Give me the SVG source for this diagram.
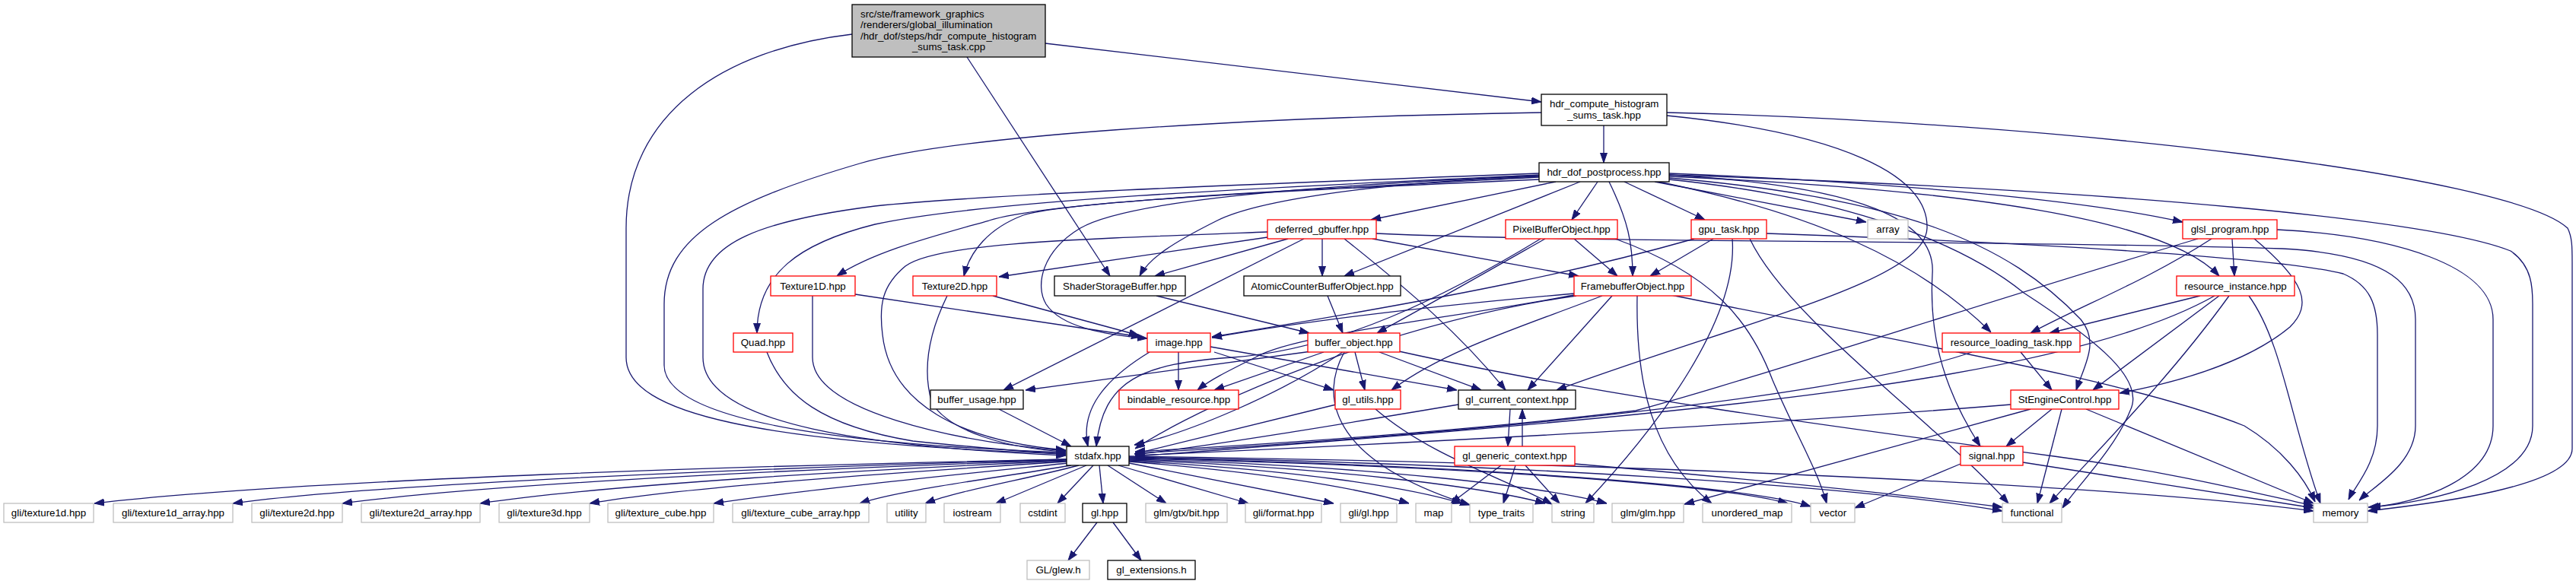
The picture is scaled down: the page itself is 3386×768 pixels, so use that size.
<svg xmlns="http://www.w3.org/2000/svg" width="3386" height="768" viewBox="0 0 3386 768">
<style>
text{font-family:"Liberation Sans",Arial,Helvetica,sans-serif;font-size:13.3px;fill:#000;text-anchor:middle}
text.l{text-anchor:start}
rect{fill:#fff;stroke-width:1.3}
.k{stroke:#000}
.r{stroke:#ff0000}
.g{stroke:#bfbfbf}
.m{fill:#bfbfbf;stroke:#000}
#edges path{fill:none;stroke:#191970;stroke-width:1.3;marker-end:url(#a)}
</style>
<defs>
<marker id="a" markerUnits="userSpaceOnUse" markerWidth="13" markerHeight="10" viewBox="0 0 13 10" refX="13" refY="5" orient="auto"><path d="M0,0.5 L13,5 L0,9.5 z" fill="#191970" stroke="#191970" stroke-width="1"/></marker>
</defs>
<rect x="0" y="0" width="3386" height="768" style="fill:#fff;stroke:none"/>
<g id="edges">
<path d="M1374,57 L2026,134"/>
<path d="M1271,75 L1459,363"/>
<path d="M1120,45 C950,65 823,150 823,300 L823,470 C823,545 1000,582 1401,597"/>
<path d="M2108,165 L2108,214"/>
<path d="M2026,148 C1600,155 1250,180 1130,215 C960,265 873,310 873,400 L873,480 C873,560 1150,586 1401,595"/>
<path d="M2191,152 C2420,175 2535,230 2533,300 C2530,370 2300,420 2046,513"/>
<path d="M2191,148 C2700,160 3300,230 3375,300 C3381,312 3381,325 3381,345 L3381,590 C3381,640 3200,662 3112,672"/>
<path d="M2045,239 L1802,289"/>
<path d="M2100,239 L2066,289"/>
<path d="M2115,239 C2140,290 2146,320 2146,363"/>
<path d="M2135,239 L2241,289"/>
<path d="M2175,239 L2453,292"/>
<path d="M2194,228 C2500,240 2750,265 2869,292"/>
<path d="M2194,232 C2600,250 2850,290 2917,363"/>
<path d="M2180,239 C2380,280 2520,340 2617,437"/>
<path d="M2194,234 C2500,260 2640,320 2735,420 C2760,450 2740,480 2729,513"/>
<path d="M2194,230 C2450,245 2545,290 2540,360 C2535,450 2560,520 2603,587"/>
<path d="M2194,230 C2800,250 3200,290 3300,330 C3329,350 3329,380 3329,400 L3329,560 C3329,630 3200,660 3116,667"/>
<path d="M2023,233 C1700,250 1380,265 1300,290 C1230,310 1150,330 1100,363"/>
<path d="M2023,236 C1700,250 1400,265 1345,283 C1300,300 1275,330 1267,363"/>
<path d="M2023,230 C1700,245 1300,262 1150,295 C1050,320 995,360 995,438"/>
<path d="M2023,228 C1700,240 1300,255 1150,271 C1000,290 924,320 924,380 L924,470 C924,560 1150,588 1401,599"/>
<path d="M2023,232 C1800,240 1650,265 1600,290 C1540,320 1510,340 1498,363"/>
<path d="M2077,239 L1767,363"/>
<path d="M2023,231 C1700,245 1480,265 1420,300 C1370,330 1360,375 1375,400 C1395,430 1450,440 1508,445"/>
<path d="M2194,236 C2430,260 2580,320 2660,385 C2760,450 2820,500 2800,540 C2780,590 2730,640 2711,668"/>
<path d="M1666,312 L1313,364"/>
<path d="M1693,314 L1518,363"/>
<path d="M1738,314 L1738,363"/>
<path d="M1804,314 L2075,363"/>
<path d="M1714,314 L1319,513"/>
<path d="M1666,305 C1400,315 1230,320 1190,350 C1160,375 1155,400 1160,440 C1170,530 1260,580 1401,592"/>
<path d="M1767,314 C1850,380 1920,440 1979,513"/>
<path d="M1809,307 C2100,320 2600,315 3000,327 C3150,335 3175,380 3175,420 L3175,560 C3175,610 3120,640 3101,658"/>
<path d="M2069,314 L2126,363"/>
<path d="M2031,314 C1950,360 1880,400 1810,438"/>
<path d="M2025,314 C1900,390 1760,460 1620,470 C1500,478 1450,500 1441,587"/>
<path d="M2123,314 C2250,360 2300,420 2330,500 C2360,570 2390,620 2401,662"/>
<path d="M2252,314 L2169,363"/>
<path d="M2227,314 C2100,350 1950,385 1593,443"/>
<path d="M2277,314 C2285,420 2180,560 2084,662"/>
<path d="M2300,314 C2350,420 2550,560 2640,662"/>
<path d="M2322,307 C2700,320 3000,340 3080,360 C3115,375 3125,400 3125,440 L3125,560 C3125,610 3095,640 3087,657"/>
<path d="M2934,314 L2937,363"/>
<path d="M2889,314 C2600,400 2300,500 2150,540 C1900,570 1650,585 1492,594"/>
<path d="M2907,314 C2820,370 2740,400 2669,438"/>
<path d="M2962,313 C3030,370 3040,400 3010,430 C2950,480 2850,505 2786,517"/>
<path d="M2993,302 C3150,310 3277,350 3277,420 L3277,560 C3277,630 3180,662 3113,667"/>
<path d="M1068,389 L1068,470 C1068,540 1250,580 1401,593"/>
<path d="M1124,387 L1500,443"/>
<path d="M1245,389 C1225,430 1210,480 1225,530 C1250,570 1330,590 1401,594"/>
<path d="M1305,389 L1497,441"/>
<path d="M1008,463 C1030,520 1080,560 1200,580 C1300,590 1360,595 1401,597"/>
<path d="M1520,389 L1721,438"/>
<path d="M1745,389 L1765,438"/>
<path d="M2069,386 C1850,405 1700,425 1593,444"/>
<path d="M2069,388 C1900,420 1700,440 1650,470 C1610,490 1590,500 1574,513"/>
<path d="M2072,389 C1850,420 1600,520 1492,590"/>
<path d="M2119,389 L2008,513"/>
<path d="M2106,389 C2000,430 1900,460 1829,513"/>
<path d="M2152,389 C2150,500 2170,600 2250,662"/>
<path d="M2197,388 C2500,450 2800,500 2950,560 C3000,590 3030,630 3043,660"/>
<path d="M1549,463 L1549,513"/>
<path d="M1596,463 L1753,513"/>
<path d="M1591,456 L1915,513"/>
<path d="M1511,463 C1450,500 1420,540 1430,587"/>
<path d="M1724,462 L1348,513"/>
<path d="M1740,463 L1596,513"/>
<path d="M1781,463 L1794,513"/>
<path d="M1813,463 L1947,513"/>
<path d="M1765,463 C1680,520 1560,570 1491,585"/>
<path d="M1767,463 C1730,530 1760,610 1932,664"/>
<path d="M1839,462 C2100,520 2400,560 2700,600 C2850,620 2950,645 3041,665"/>
<path d="M1313,538 L1408,587"/>
<path d="M1756,532 L1491,597"/>
<path d="M1808,538 C1880,600 1980,630 2040,663"/>
<path d="M1917,532 C1750,560 1600,585 1492,598"/>
<path d="M1985,538 L1982,587"/>
<path d="M2001,587 L2001,538"/>
<path d="M1973,612 L1907,662"/>
<path d="M1992,612 L1976,662"/>
<path d="M2005,612 L2050,662"/>
<path d="M2070,610 C2300,630 2500,650 2632,667"/>
<path d="M2656,463 L2697,513"/>
<path d="M2592,463 C2400,530 1800,580 1492,596"/>
<path d="M2892,389 L2694,438"/>
<path d="M2917,389 L2751,513"/>
<path d="M2930,389 C2850,500 2750,600 2694,662"/>
<path d="M2956,389 C3000,450 3010,550 3050,662"/>
<path d="M2911,389 C2750,480 2400,520 2150,545 C1900,570 1650,588 1492,600"/>
<path d="M2643,532 C2300,560 1800,585 1492,599"/>
<path d="M2697,538 L2637,587"/>
<path d="M2710,538 L2678,662"/>
<path d="M2742,538 L3041,662"/>
<path d="M2669,538 L2214,663"/>
<path d="M2577,610 L2438,668"/>
<path d="M2659,608 L3041,668"/>
<path d="M1402,604 C1000,612 400,630 124,662"/>
<path d="M1402,604 C1050,614 500,635 306,662"/>
<path d="M1402,605 C1100,615 650,635 450,662"/>
<path d="M1402,606 C1150,617 800,637 631,662"/>
<path d="M1402,607 C1200,620 900,640 775,662"/>
<path d="M1404,609 C1250,625 1050,645 938,662"/>
<path d="M1408,612 C1300,630 1180,645 1130,662"/>
<path d="M1418,612 C1350,630 1260,645 1216,662"/>
<path d="M1428,612 L1309,662"/>
<path d="M1437,612 L1390,662"/>
<path d="M1445,612 L1450,662"/>
<path d="M1456,612 L1533,662"/>
<path d="M1470,612 L1641,662"/>
<path d="M1484,609 L1753,662"/>
<path d="M1484,607 C1650,620 1780,640 1852,662"/>
<path d="M1484,606 C1700,618 1850,640 1921,662"/>
<path d="M1484,605 C1750,615 1950,640 2031,662"/>
<path d="M1484,604 C1800,612 2030,640 2112,662"/>
<path d="M1484,603 C1900,612 2250,635 2350,662"/>
<path d="M1484,602 C1950,612 2300,640 2380,666"/>
<path d="M1484,601 C2000,610 2450,640 2632,672"/>
<path d="M1484,600 C2200,610 2800,640 3041,672"/>
<path d="M1442,687 L1404,737"/>
<path d="M1463,687 L1500,737"/>
</g>
<g id="node-main"><rect class="m" x="1120" y="6" width="254" height="69"/><text class="l" x="1131" y="22.5">src/ste/framework_graphics</text><text class="l" x="1131" y="37">/renderers/global_illumination</text><text class="l" x="1131" y="51.5">/hdr_dof/steps/hdr_compute_histogram</text><text x="1247" y="66">_sums_task.cpp</text></g>
<g id="node-hct"><rect class="k" x="2026" y="124" width="165" height="41"/><text class="l" x="2037" y="141">hdr_compute_histogram</text><text x="2108.5" y="155.5">_sums_task.hpp</text></g>
<g id="node-hdp"><rect class="k" x="2023" y="214" width="171" height="25"/><text x="2108.5" y="231">hdr_dof_postprocess.hpp</text></g>
<g id="node-dgb"><rect class="r" x="1666" y="289" width="143" height="25"/><text x="1737.5" y="306">deferred_gbuffer.hpp</text></g>
<g id="node-pbo"><rect class="r" x="1979" y="289" width="147" height="25"/><text x="2052.5" y="306">PixelBufferObject.hpp</text></g>
<g id="node-gpu"><rect class="r" x="2223" y="289" width="99" height="25"/><text x="2272.5" y="306">gpu_task.hpp</text></g>
<g id="node-arr"><rect class="g" x="2455" y="289" width="53" height="25"/><text x="2481.5" y="306">array</text></g>
<g id="node-glsl"><rect class="r" x="2869" y="289" width="124" height="25"/><text x="2931" y="306">glsl_program.hpp</text></g>
<g id="node-t1d"><rect class="r" x="1013" y="363" width="111" height="26"/><text x="1068.5" y="380.5">Texture1D.hpp</text></g>
<g id="node-t2d"><rect class="r" x="1200" y="363" width="110" height="26"/><text x="1255" y="380.5">Texture2D.hpp</text></g>
<g id="node-ssb"><rect class="k" x="1386" y="363" width="172" height="26"/><text x="1472" y="380.5">ShaderStorageBuffer.hpp</text></g>
<g id="node-acbo"><rect class="k" x="1635" y="363" width="206" height="26"/><text x="1738" y="380.5">AtomicCounterBufferObject.hpp</text></g>
<g id="node-fbo"><rect class="r" x="2069" y="363" width="154" height="26"/><text x="2146" y="380.5">FramebufferObject.hpp</text></g>
<g id="node-ri"><rect class="r" x="2861" y="363" width="155" height="26"/><text x="2938.5" y="380.5">resource_instance.hpp</text></g>
<g id="node-quad"><rect class="r" x="964" y="438" width="78" height="25"/><text x="1003" y="455">Quad.hpp</text></g>
<g id="node-img"><rect class="r" x="1508" y="438" width="83" height="25"/><text x="1549.5" y="455">image.hpp</text></g>
<g id="node-bo"><rect class="r" x="1719" y="438" width="121" height="25"/><text x="1779.5" y="455">buffer_object.hpp</text></g>
<g id="node-rlt"><rect class="r" x="2553" y="438" width="181" height="25"/><text x="2643.5" y="455">resource_loading_task.hpp</text></g>
<g id="node-bu"><rect class="k" x="1223" y="513" width="122" height="25"/><text x="1284" y="530">buffer_usage.hpp</text></g>
<g id="node-br"><rect class="r" x="1471" y="513" width="157" height="25"/><text x="1549.5" y="530">bindable_resource.hpp</text></g>
<g id="node-glu"><rect class="r" x="1755" y="513" width="86" height="25"/><text x="1798" y="530">gl_utils.hpp</text></g>
<g id="node-gcc"><rect class="k" x="1917" y="513" width="154" height="25"/><text x="1994" y="530">gl_current_context.hpp</text></g>
<g id="node-sec"><rect class="r" x="2643" y="513" width="142" height="25"/><text x="2714" y="530">StEngineControl.hpp</text></g>
<g id="node-std"><rect class="k" x="1402" y="587" width="82" height="25"/><text x="1443" y="604">stdafx.hpp</text></g>
<g id="node-ggc"><rect class="r" x="1912" y="587" width="158" height="25"/><text x="1991" y="604">gl_generic_context.hpp</text></g>
<g id="node-sig"><rect class="r" x="2577" y="587" width="82" height="25"/><text x="2618" y="604">signal.hpp</text></g>
<g id="node-t1"><rect class="g" x="5" y="662" width="118" height="25"/><text x="64" y="679">gli/texture1d.hpp</text></g>
<g id="node-t1a"><rect class="g" x="149" y="662" width="157" height="25"/><text x="227.5" y="679">gli/texture1d_array.hpp</text></g>
<g id="node-t2"><rect class="g" x="331" y="662" width="119" height="25"/><text x="390.5" y="679">gli/texture2d.hpp</text></g>
<g id="node-t2a"><rect class="g" x="475" y="662" width="156" height="25"/><text x="553" y="679">gli/texture2d_array.hpp</text></g>
<g id="node-t3"><rect class="g" x="656" y="662" width="119" height="25"/><text x="715.5" y="679">gli/texture3d.hpp</text></g>
<g id="node-tc"><rect class="g" x="799" y="662" width="139" height="25"/><text x="868.5" y="679">gli/texture_cube.hpp</text></g>
<g id="node-tca"><rect class="g" x="963" y="662" width="179" height="25"/><text x="1052.5" y="679">gli/texture_cube_array.hpp</text></g>
<g id="node-util"><rect class="g" x="1166" y="662" width="51" height="25"/><text x="1191.5" y="679">utility</text></g>
<g id="node-ios"><rect class="g" x="1241" y="662" width="74" height="25"/><text x="1278" y="679">iostream</text></g>
<g id="node-cst"><rect class="g" x="1341" y="662" width="59" height="25"/><text x="1370.5" y="679">cstdint</text></g>
<g id="node-glh"><rect class="k" x="1423" y="662" width="58" height="25"/><text x="1452" y="679">gl.hpp</text></g>
<g id="node-bit"><rect class="g" x="1506" y="662" width="107" height="25"/><text x="1559.5" y="679">glm/gtx/bit.hpp</text></g>
<g id="node-fmt"><rect class="g" x="1637" y="662" width="100" height="25"/><text x="1687" y="679">gli/format.hpp</text></g>
<g id="node-glgl"><rect class="g" x="1762" y="662" width="74" height="25"/><text x="1799" y="679">gli/gl.hpp</text></g>
<g id="node-map"><rect class="g" x="1861" y="662" width="47" height="25"/><text x="1884.5" y="679">map</text></g>
<g id="node-tt"><rect class="g" x="1932" y="662" width="83" height="25"/><text x="1973.5" y="679">type_traits</text></g>
<g id="node-str"><rect class="g" x="2040" y="662" width="55" height="25"/><text x="2067.5" y="679">string</text></g>
<g id="node-glm"><rect class="g" x="2119" y="662" width="94" height="25"/><text x="2166" y="679">glm/glm.hpp</text></g>
<g id="node-um"><rect class="g" x="2238" y="662" width="117" height="25"/><text x="2296.5" y="679">unordered_map</text></g>
<g id="node-vec"><rect class="g" x="2380" y="662" width="58" height="25"/><text x="2409" y="679">vector</text></g>
<g id="node-fun"><rect class="g" x="2632" y="662" width="78" height="25"/><text x="2671" y="679">functional</text></g>
<g id="node-mem"><rect class="g" x="3041" y="662" width="71" height="25"/><text x="3076.5" y="679">memory</text></g>
<g id="node-glew"><rect class="g" x="1350" y="737" width="82" height="25"/><text x="1391" y="754">GL/glew.h</text></g>
<g id="node-ext"><rect class="k" x="1456" y="737" width="115" height="25"/><text x="1513.5" y="754">gl_extensions.h</text></g>
</svg>
